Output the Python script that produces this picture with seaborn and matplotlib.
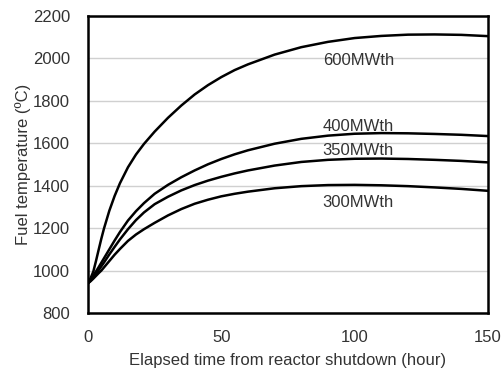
import pandas as pd
import matplotlib
matplotlib.use("Agg")
import matplotlib.pyplot as plt
import seaborn as sns
from matplotlib.ticker import MultipleLocator

# Values
hours = [0, 1, 2, 3, 4, 5, 6, 8, 10, 12, 15, 18, 21, 25, 30, 35, 40, 45, 50, 55,
         60, 70, 80, 90, 100, 110, 120, 130, 140, 150]
temp_600 = [940, 965, 995, 1045, 1098, 1150, 1198, 1282, 1352, 1412, 1487, 1547, 1597, 1655,
            1720, 1778, 1830, 1874, 1912, 1945, 1972, 2018, 2053, 2078, 2096, 2106, 2112,
            2113, 2111, 2105]
temp_400 = [940, 957, 976, 996, 1016, 1037, 1058, 1100, 1142, 1182, 1236, 1280, 1318, 1362,
            1404, 1440, 1472, 1501, 1526, 1548, 1567, 1598, 1621, 1636, 1645, 1648, 1647,
            1644, 1640, 1634]
temp_350 = [940, 953, 968, 985, 1002, 1020, 1038, 1076, 1112, 1147, 1195, 1238, 1274, 1313,
            1348, 1378, 1403, 1424, 1442, 1458, 1472, 1495, 1512, 1522, 1527, 1528, 1526,
            1522, 1517, 1510]
temp_300 = [940, 950, 962, 975, 988, 1000, 1015, 1045, 1075, 1102, 1140, 1170, 1195, 1225,
            1260, 1290, 1315, 1334, 1350, 1362, 1372, 1388, 1398, 1403, 1404, 1402, 1398,
            1392, 1385, 1376]
labels = ["600MWth", "400MWth", "350MWth", "300MWth"]
label_pos = [(88, 1992), (88, 1681), (88, 1565), (88, 1319)]

df = pd.concat([
    pd.DataFrame({"hour": hours, "temp": t, "power": lab})
    for t, lab in zip([temp_600, temp_400, temp_350, temp_300], labels)
])

sns.set_style("white")
plt.rcParams['font.family'] = ['Liberation Sans', 'DejaVu Sans']
plt.rcParams['font.size'] = 12

fig = plt.figure(figsize=(5.01, 3.7), dpi=100)
ax = fig.add_axes([0.1756, 0.154, 0.7984, 0.8028])

sns.lineplot(data=df, x="hour", y="temp", hue="power", palette=["black"] * 4,
             legend=False, linewidth=1.8, ax=ax, zorder=3)

for lab, (x, y) in zip(labels, label_pos):
    ax.text(x, y, lab, ha="left", va="center", fontsize=12, color="#333333", zorder=4)

ax.set_xlim(0, 150)
ax.set_ylim(800, 2200)
ax.xaxis.set_major_locator(MultipleLocator(50))
ax.xaxis.set_minor_locator(MultipleLocator(10))
ax.yaxis.set_major_locator(MultipleLocator(200))
ax.yaxis.grid(True, color="#d0d0d0", linewidth=1)
ax.set_axisbelow(True)

ax.tick_params(axis="both", which="major", direction="in", length=5, width=1.5,
               labelsize=12, labelcolor="#333333", color="black")
ax.tick_params(axis="x", which="major", pad=12)
ax.tick_params(axis="y", which="major", pad=13)
ax.tick_params(axis="x", which="minor", direction="in", length=4, width=1.5, color="black")
for s in ax.spines.values():
    s.set_color("black")
    s.set_linewidth(1.8)

ax.set_xlabel("Elapsed time from reactor shutdown (hour)", fontsize=12, color="#333333", labelpad=6)
ax.set_ylabel("Fuel temperature (ºC)", fontsize=12, color="#333333", labelpad=1)

fig.savefig("out.png", dpi=100)
